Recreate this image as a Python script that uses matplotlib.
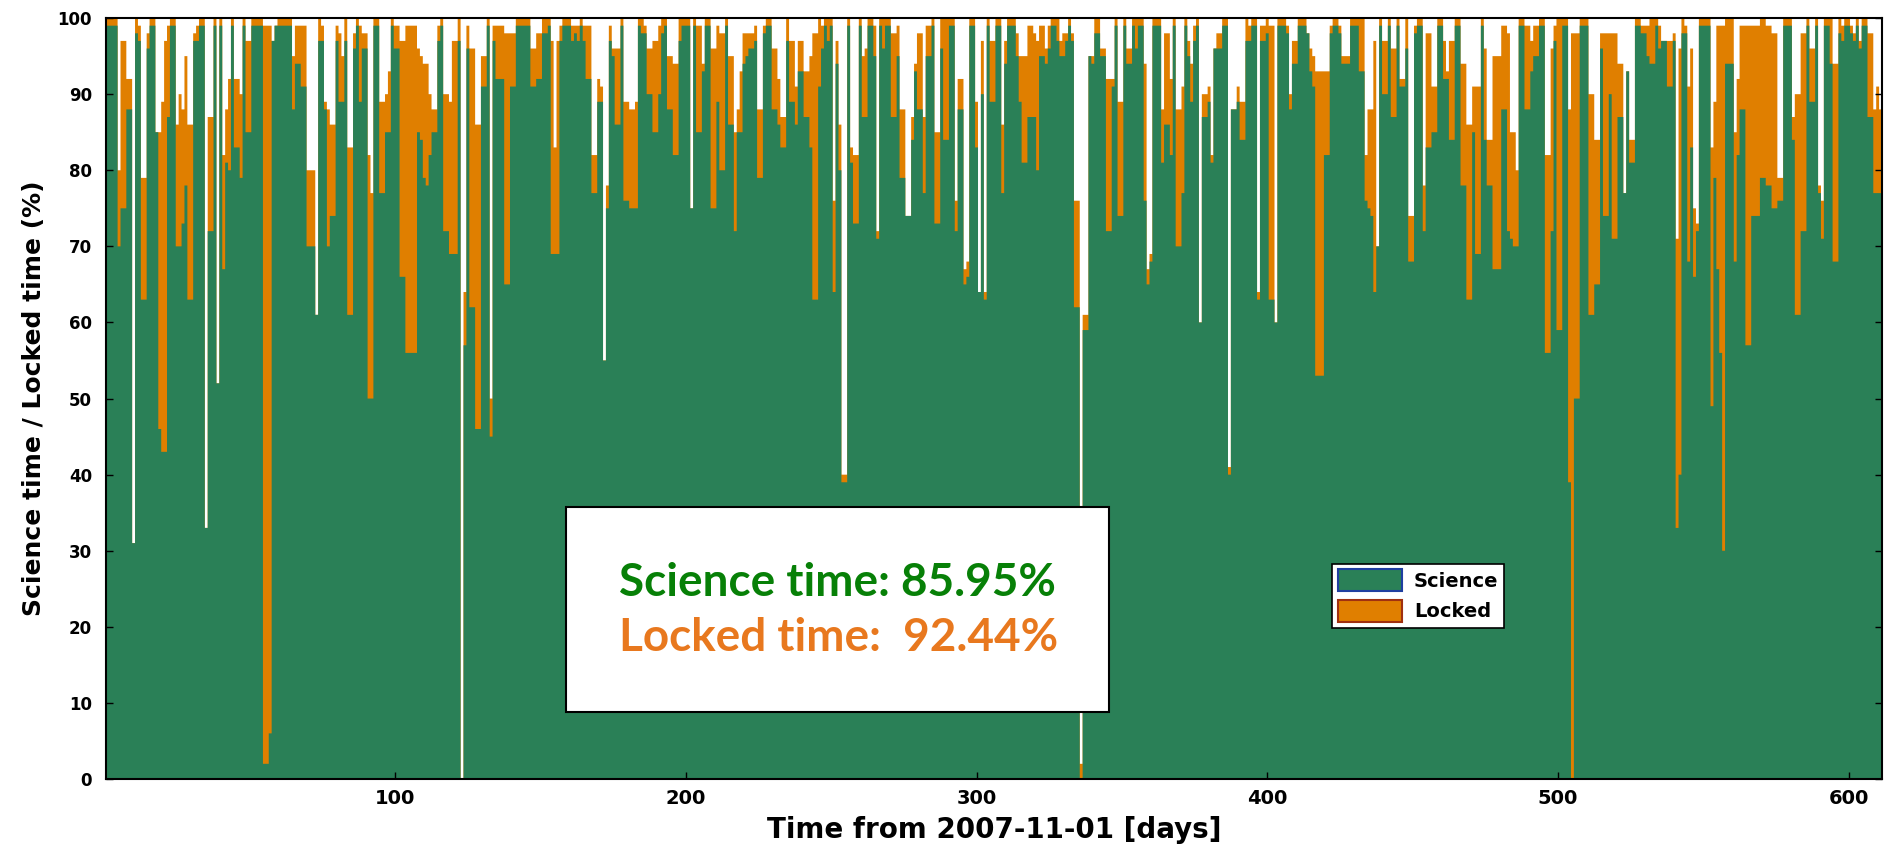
import numpy as np
import matplotlib
matplotlib.use('Agg')
import matplotlib.pyplot as plt
from matplotlib.patches import Patch

# --- data: daily duty factors (%) ---
# science[i] / locked[i] belong to day i+1 counted from 2007-11-01
science = [
    99, 99, 99, 99, 70, 75, 75, 88, 88, 31,
    98, 97, 63, 63, 96, 99, 99, 85, 46, 43,
    43, 87, 99, 99, 70, 70, 73, 78, 63, 63,
    97, 97, 99, 99, 33, 72, 72, 99, 52, 99,
    67, 81, 80, 99, 83, 83, 79, 99, 85, 85,
    99, 99, 99, 99, 2, 2, 6, 97, 99, 99,
    99, 99, 99, 99, 88, 94, 94, 91, 91, 70,
    70, 70, 61, 97, 97, 88, 70, 74, 74, 97,
    89, 89, 97, 61, 61, 96, 99, 89, 96, 96,
    50, 50, 99, 99, 77, 77, 85, 85, 99, 96,
    96, 66, 66, 56, 56, 56, 56, 85, 84, 79,
    78, 82, 85, 85, 97, 99, 72, 72, 69, 69,
    69, 97, 0, 57, 96, 62, 62, 46, 46, 91,
    91, 99, 45, 97, 92, 92, 92, 65, 65, 91,
    91, 99, 99, 99, 99, 99, 91, 91, 92, 92,
    98, 98, 99, 69, 69, 69, 97, 99, 99, 99,
    97, 98, 97, 99, 97, 92, 92, 77, 77, 89,
    89, 55, 75, 97, 95, 86, 86, 99, 76, 76,
    75, 75, 75, 99, 98, 98, 90, 90, 85, 85,
    90, 98, 99, 88, 88, 82, 82, 97, 99, 99,
    99, 75, 99, 85, 85, 93, 99, 99, 75, 75,
    89, 80, 80, 99, 86, 86, 72, 85, 85, 94,
    95, 96, 96, 97, 79, 79, 98, 99, 99, 88,
    88, 86, 83, 83, 97, 89, 89, 86, 93, 93,
    87, 87, 83, 63, 63, 91, 96, 99, 97, 99,
    64, 94, 80, 39, 39, 99, 81, 73, 73, 99,
    87, 87, 99, 99, 95, 71, 99, 96, 99, 99,
    87, 87, 95, 79, 79, 74, 74, 84, 93, 88,
    88, 77, 95, 95, 99, 73, 73, 96, 84, 84,
    99, 99, 72, 88, 88, 65, 66, 99, 99, 83,
    64, 90, 63, 99, 89, 89, 99, 99, 77, 94,
    99, 99, 99, 95, 89, 81, 81, 87, 87, 87,
    80, 95, 95, 94, 96, 99, 99, 97, 95, 95,
    97, 99, 97, 62, 62, 0, 59, 59, 95, 94,
    98, 98, 95, 95, 72, 72, 91, 99, 74, 74,
    99, 94, 94, 99, 96, 99, 99, 76, 65, 68,
    99, 99, 99, 81, 86, 86, 82, 99, 70, 70,
    77, 99, 95, 89, 97, 99, 60, 87, 87, 89,
    81, 96, 96, 96, 99, 99, 40, 88, 88, 89,
    84, 84, 97, 97, 99, 99, 63, 97, 97, 98,
    63, 63, 60, 99, 99, 99, 98, 88, 94, 94,
    99, 99, 99, 98, 93, 91, 53, 53, 53, 82,
    82, 98, 99, 99, 98, 94, 94, 94, 99, 99,
    99, 93, 93, 76, 75, 74, 64, 70, 99, 90,
    90, 99, 87, 87, 99, 91, 91, 96, 68, 68,
    98, 99, 99, 72, 83, 83, 85, 85, 99, 99,
    92, 92, 84, 84, 99, 99, 78, 78, 63, 63,
    85, 69, 69, 99, 84, 78, 78, 67, 67, 67,
    88, 88, 72, 71, 70, 70, 99, 99, 88, 88,
    93, 95, 95, 99, 99, 56, 56, 72, 97, 59,
    59, 99, 99, 39, 0, 50, 50, 99, 99, 99,
    61, 61, 65, 65, 96, 74, 74, 90, 71, 71,
    87, 87, 77, 93, 81, 81, 99, 99, 98, 98,
    95, 94, 94, 99, 96, 97, 97, 91, 91, 97,
    33, 40, 98, 98, 68, 83, 66, 72, 99, 99,
    99, 99, 49, 79, 67, 56, 30, 94, 94, 94,
    68, 82, 88, 88, 57, 57, 74, 74, 74, 79,
    79, 78, 78, 75, 75, 76, 76, 99, 99, 99,
    84, 61, 61, 72, 72, 99, 89, 89, 99, 77,
    71, 99, 99, 94, 68, 68, 98, 97, 99, 99,
    98, 97, 99, 96, 99, 99, 87, 87, 77, 77, 77,
]
locked = [
    100, 100, 100, 100, 80, 97, 97, 92, 92, 31,
    100, 99, 79, 79, 98, 100, 100, 85, 85, 89,
    97, 99, 100, 100, 86, 90, 88, 95, 86, 86,
    98, 99, 100, 100, 33, 87, 87, 100, 52, 100,
    82, 88, 92, 100, 92, 92, 90, 100, 97, 97,
    100, 100, 100, 100, 99, 99, 99, 97, 99, 100,
    100, 100, 100, 100, 95, 99, 99, 99, 99, 80,
    80, 80, 61, 100, 99, 89, 88, 86, 86, 99,
    98, 95, 100, 83, 83, 98, 100, 99, 98, 98,
    82, 77, 100, 100, 89, 89, 90, 93, 100, 99,
    99, 97, 97, 99, 99, 99, 99, 96, 95, 94,
    94, 90, 88, 88, 99, 100, 90, 90, 89, 97,
    97, 100, 0, 64, 99, 96, 96, 86, 86, 95,
    95, 100, 50, 99, 99, 99, 99, 98, 98, 98,
    98, 100, 100, 100, 100, 100, 96, 96, 98, 98,
    100, 100, 100, 97, 83, 97, 99, 100, 100, 100,
    99, 99, 99, 100, 99, 99, 99, 82, 82, 92,
    91, 55, 78, 99, 96, 96, 96, 100, 89, 89,
    88, 88, 89, 100, 100, 99, 96, 96, 97, 97,
    99, 100, 100, 95, 95, 94, 94, 100, 100, 100,
    100, 75, 100, 99, 99, 94, 100, 100, 96, 96,
    99, 98, 98, 100, 95, 95, 85, 88, 93, 98,
    98, 98, 98, 99, 88, 88, 99, 100, 100, 96,
    96, 92, 87, 87, 100, 97, 97, 91, 97, 97,
    93, 93, 95, 98, 98, 100, 99, 100, 100, 100,
    76, 97, 86, 40, 40, 100, 83, 82, 82, 100,
    95, 96, 100, 100, 99, 72, 100, 100, 100, 100,
    98, 98, 99, 88, 88, 74, 74, 87, 94, 98,
    98, 87, 99, 99, 100, 85, 85, 100, 100, 100,
    100, 100, 76, 92, 92, 67, 68, 100, 100, 89,
    64, 97, 64, 100, 97, 97, 100, 100, 86, 97,
    100, 100, 100, 98, 95, 95, 95, 99, 99, 98,
    97, 99, 99, 96, 99, 100, 100, 100, 97, 98,
    98, 100, 98, 76, 76, 2, 61, 61, 95, 95,
    100, 100, 96, 96, 92, 92, 92, 100, 89, 89,
    100, 96, 96, 100, 100, 100, 100, 94, 67, 69,
    100, 100, 100, 88, 98, 98, 92, 100, 88, 88,
    91, 100, 97, 94, 99, 100, 60, 90, 90, 91,
    82, 96, 98, 98, 100, 100, 41, 88, 88, 91,
    89, 89, 100, 99, 100, 100, 64, 99, 99, 100,
    99, 99, 60, 100, 100, 100, 99, 90, 97, 97,
    100, 100, 100, 98, 96, 95, 93, 93, 93, 93,
    93, 99, 100, 100, 99, 95, 95, 95, 100, 100,
    100, 100, 100, 82, 88, 88, 97, 70, 100, 97,
    97, 100, 96, 96, 100, 92, 92, 100, 74, 74,
    99, 100, 100, 78, 98, 98, 91, 91, 100, 100,
    97, 93, 97, 97, 100, 100, 94, 94, 86, 86,
    91, 91, 91, 100, 96, 84, 84, 95, 95, 95,
    99, 99, 98, 85, 85, 80, 100, 100, 99, 99,
    97, 99, 99, 100, 100, 82, 82, 96, 99, 100,
    100, 100, 100, 88, 98, 98, 98, 100, 100, 100,
    90, 90, 84, 84, 98, 98, 98, 98, 98, 98,
    94, 94, 77, 93, 84, 84, 100, 100, 99, 99,
    99, 100, 100, 100, 99, 97, 97, 97, 97, 98,
    71, 96, 100, 99, 91, 96, 75, 73, 100, 100,
    100, 100, 83, 89, 99, 99, 99, 100, 100, 100,
    85, 92, 99, 99, 99, 99, 99, 99, 99, 100,
    100, 99, 99, 98, 98, 79, 79, 100, 100, 100,
    87, 90, 90, 98, 98, 100, 96, 96, 100, 78,
    76, 100, 100, 100, 94, 94, 100, 99, 100, 100,
    99, 98, 100, 97, 100, 100, 98, 98, 88, 91, 88,
]
x_ticks = [100, 200, 300, 400, 500, 600]
y_ticks = list(range(0, 101, 10))
science_total = "85.95%"
locked_total = "92.44%"

GREEN = '#2a8057'
ORANGE = '#e07f00'

n_days = len(science)
edges = np.arange(n_days + 1) + 0.5

plt.rcParams['font.family'] = ['DejaVu Sans']

fig = plt.figure(figsize=(18.89, 8.61), dpi=100)
ax = fig.add_axes([0.0561, 0.0952, 0.9402, 0.8838])

# locked first, science on top of it -> orange shows the locked-but-not-science part
ax.stairs(locked, edges, fill=True, color=ORANGE, linewidth=0)
ax.stairs(science, edges, fill=True, color=GREEN, linewidth=0)

ax.set_xlim(edges[0], edges[-1])
ax.set_ylim(0, 100)
ax.set_xticks(x_ticks)
ax.set_yticks(y_ticks)
ax.tick_params(axis='both', direction='in', length=5, width=1,
               right=True, top=False)
ax.tick_params(axis='x', pad=7, labelsize=14)
ax.tick_params(axis='y', pad=10, labelsize=12)
for lab in ax.get_xticklabels() + ax.get_yticklabels():
    lab.set_fontweight('bold')
for sp in ax.spines.values():
    sp.set_linewidth(1.5)

ax.set_xlabel("Time from 2007-11-01 [days]", fontsize=20, fontweight='bold', labelpad=6)
ax.set_ylabel("Science time / Locked time (%)", fontsize=18, fontweight='bold', labelpad=8)

# summary box
box = plt.Rectangle((0.259, 0.088), 0.306, 0.269, transform=ax.transAxes,
                    facecolor='white', edgecolor='black', linewidth=1.5, zorder=5)
ax.add_patch(box)
ax.text(0.289, 0.257, f"Science time: {science_total}", transform=ax.transAxes,
        color='#078007', fontsize=33, fontweight='bold', family=['Lato', 'DejaVu Sans'],
        va='center', ha='left', zorder=6)
ax.text(0.289, 0.185, f"Locked time:  {locked_total}", transform=ax.transAxes,
        color='#e8781e', fontsize=33, fontweight='bold', family=['Lato', 'DejaVu Sans'],
        va='center', ha='left', zorder=6)

handles = [Patch(facecolor=GREEN, edgecolor='#1f3fa0', linewidth=1.5, label='Science'),
           Patch(facecolor=ORANGE, edgecolor='#a03010', linewidth=1.5, label='Locked')]
leg = ax.legend(handles=handles, loc='upper left', bbox_to_anchor=(0.685, 0.296),
                fancybox=False, framealpha=1, edgecolor='black',
                prop={'weight': 'bold', 'size': 14}, handlelength=3.3, handleheight=1.35,
                borderpad=0.3, labelspacing=0.45, handletextpad=0.6)
leg.get_frame().set_linewidth(1.2)
leg.set_zorder(7)

fig.savefig('out.png', dpi=100, facecolor='white')
